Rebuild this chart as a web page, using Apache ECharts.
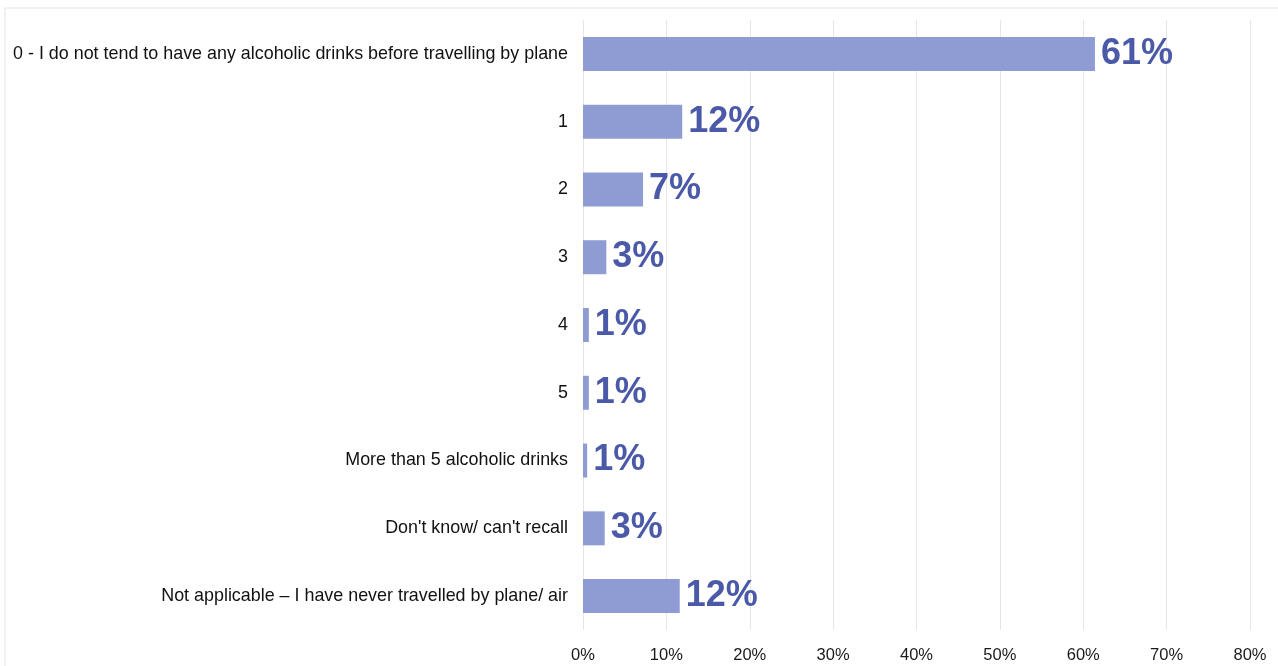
<!DOCTYPE html>
<html>
<head>
<meta charset="utf-8">
<script src="https://cdn.jsdelivr.net/npm/echarts@6/dist/echarts.min.js"></script>
<style>
html,body{margin:0;padding:0;background:#fff;}
#chart{width:1278px;height:666px;}
</style>
</head>
<body>
<div id="chart"></div>
<script>
const categories = [
  "0 - I do not tend to have any alcoholic drinks before travelling by plane",
  "1",
  "2",
  "3",
  "4",
  "5",
  "More than 5 alcoholic drinks",
  "Don't know/ can't recall",
  "Not applicable – I have never travelled by plane/ air"
];
const values = [61.4, 11.9, 7.2, 2.8, 0.7, 0.7, 0.5, 2.6, 11.6];
const xTicks = [0, 10, 20, 30, 40, 50, 60, 70, 80];

const chart = echarts.init(document.getElementById('chart'));
chart.setOption({
  backgroundColor: '#fff',
  animation: false,
  graphic: [{
    type: 'rect',
    shape: { x: 5, y: 8, width: 1300, height: 700 },
    style: { fill: 'none', stroke: '#e3e3e3', lineWidth: 1 },
    silent: true
  }],
  grid: { left: 583, right: 28, top: 20, bottom: 36, containLabel: false },
  xAxis: {
    type: 'value',
    min: xTicks[0],
    max: xTicks[xTicks.length - 1],
    interval: 10,
    axisLine: { show: false },
    axisTick: { show: false },
    splitLine: { show: true, lineStyle: { color: '#e6e6e6', width: 1 } },
    axisLabel: {
      formatter: v => v + '%',
      fontFamily: 'Liberation Sans, Arial, sans-serif',
      fontSize: 16.5,
      color: '#1a1a1a',
      margin: 17
    }
  },
  yAxis: {
    type: 'category',
    data: categories,
    inverse: true,
    axisLine: { show: false },
    axisTick: { show: false },
    axisLabel: {
      fontFamily: 'Liberation Sans, Arial, sans-serif',
      fontSize: 17.9,
      color: '#111',
      margin: 15
    }
  },
  series: [{
    type: 'bar',
    data: values,
    barWidth: 34,
    itemStyle: { color: '#8e9cd3' },
    label: {
      show: true,
      position: 'right',
      distance: 6,
      formatter: p => Math.round(p.value) + '%',
      fontFamily: 'Liberation Sans, Arial, sans-serif',
      fontWeight: 'bold',
      fontSize: 36,
      color: '#4b5aa8'
    }
  }]
});
</script>
</body>
</html>
